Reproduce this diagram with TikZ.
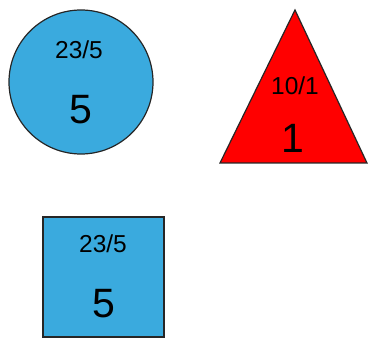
\documentclass[tikz,border=0pt]{standalone}
\usepackage{fontspec}
\setmainfont{Liberation Sans}
\usetikzlibrary{positioning}
\definecolor{skyblue}{RGB}{58,170,222}
\definecolor{pure red}{RGB}{255,0,0}
\tikzset{every picture/.style={line width=0.75pt}}
\tikzset{
  shape edge/.style={draw=black!85, line width=1.2pt},
  small num/.style={font=\fontsize{24.5}{24.5}\selectfont, inner sep=0pt},
  big num/.style={font=\fontsize{41}{41}\selectfont, inner sep=0pt}
}

\begin{document}
\begin{tikzpicture}[x=1pt, y=-1pt]
    \useasboundingbox (0,0) rectangle (368,339);

    % 圆
    \filldraw[shape edge, fill=skyblue] (81,82) circle (72);
    \node[small num] (circtop) at (79,50) {23/5};
    \node[big num] (circbot) at (81,110) {5};

    % 三角形
    \filldraw[shape edge, fill=pure red] (295,10) -- (367,163) -- (220,163) -- cycle;
    \node[small num] (tritop) at (295,86) {10/1};
    \node[big num] (tribot) at (293,138) {1};

    % 正方形
    \filldraw[shape edge, fill=skyblue] (43,217) rectangle (164,337);
    \node[small num] (sqtop) at (103,244) {23/5};
    \node[big num] (sqbot) at (104,304) {5};
\end{tikzpicture}
\end{document}
